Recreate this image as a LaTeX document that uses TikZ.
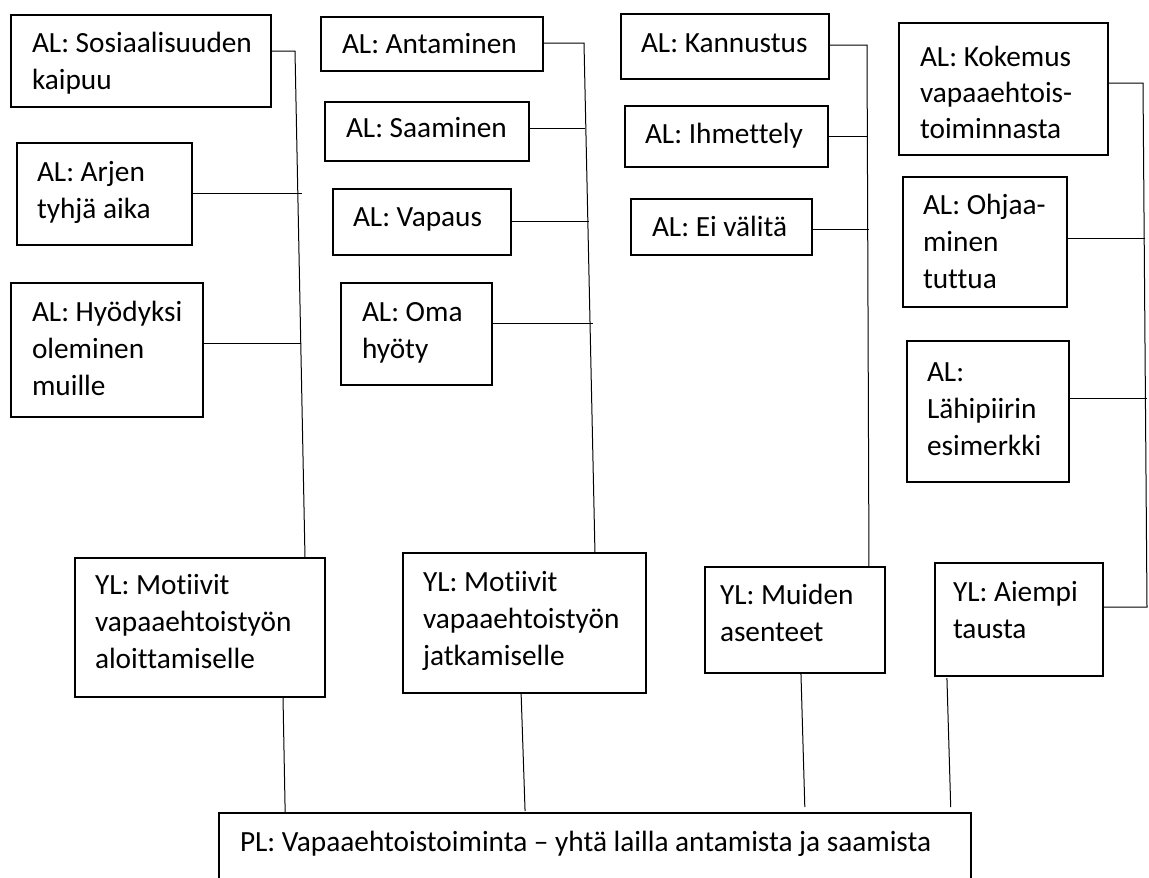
\documentclass[tikz,border=0pt]{standalone}
\usepackage{fontspec}
\setmainfont{Carlito}[Ligatures={NoCommon}]
\usetikzlibrary{calc}
\newcommand\boxfont{\fontsize{29.3}{37}\selectfont}
\begin{document}
\begin{tikzpicture}[x=1pt,y=-1pt,
  box/.style={draw, line width=1.3pt, inner sep=0pt, outer sep=0pt, anchor=north west},
  lbl/.style={anchor=north west, inner sep=0pt, outer sep=0pt, align=left, font=\boxfont},
  link/.style={line width=1pt}]
\clip (0,0) rectangle (1149,878);
\fill[white] (0,0) rectangle (1149,878);

% --- AL boxes, first column
\node[box, minimum width=260pt, minimum height=92pt]  (s1) at (11,15)  {};
\node[box, minimum width=175pt, minimum height=102pt] (s2) at (17,143) {};
\node[box, minimum width=192pt, minimum height=134pt] (s3) at (11,283) {};
\node[lbl] (s1t) at (32,53-26)  {\strut AL: Sosiaalisuuden\\kaipuu};
\node[lbl] (s2t) at (37,182-26) {\strut AL: Arjen\\tyhjä aika};
\node[lbl] (s3t) at (32,322-26) {\strut AL: Hyödyksi\\oleminen\\muille};

% --- AL boxes, second column
\node[box, minimum width=222pt, minimum height=54pt]  (g1) at (321,17)  {};
\node[box, minimum width=204pt, minimum height=59pt]  (g2) at (325,102) {};
\node[box, minimum width=178pt, minimum height=66pt]  (g3) at (333,189) {};
\node[box, minimum width=151pt, minimum height=102pt] (g4) at (341,283) {};
\node[lbl] (g1t) at (342,54-26)  {\strut AL: Antaminen};
\node[lbl] (g2t) at (346,138-26) {\strut AL: Saaminen};
\node[lbl] (g3t) at (353,227-26) {\strut AL: Vapaus};
\node[lbl] (g4t) at (362,322-26) {\strut AL: Oma\\hyöty};

% --- AL boxes, third column
\node[box, minimum width=208pt, minimum height=65pt] (m1) at (621,14)  {};
\node[box, minimum width=203pt, minimum height=61pt] (m2) at (625,106) {};
\node[box, minimum width=181pt, minimum height=56pt] (m3) at (631,199) {};
\node[lbl] (m1t) at (641,53-26)  {\strut AL: Kannustus};
\node[lbl] (m2t) at (645,144-26) {\strut AL: Ihmettely};
\node[lbl] (m3t) at (652,237-26) {\strut AL: Ei välitä};

% --- AL boxes, fourth column
\node[box, minimum width=209pt, minimum height=132pt] (b1) at (899,23)  {};
\node[box, minimum width=164pt, minimum height=130pt] (b2) at (903,177) {};
\node[box, minimum width=162pt, minimum height=141pt] (b3) at (907,341) {};
\node[lbl, font=\fontsize{29.3}{36}\selectfont] (b1t) at (920,67-26) {\strut AL: Kokemus\\vapaaehtois-\\toiminnasta};
\node[lbl] (b2t) at (923,215-26) {\strut AL: Ohjaa-\\minen\\tuttua};
\node[lbl] (b3t) at (927,382-26) {\strut AL:\\Lähipiirin\\esimerkki};

% --- YL boxes
\node[box, minimum width=250pt, minimum height=139pt] (y1) at (75,558)  {};
\node[box, minimum width=243pt, minimum height=140pt] (y2) at (403,553) {};
\node[box, minimum width=180pt, minimum height=106pt] (y3) at (705,567) {};
\node[box, minimum width=168pt, minimum height=113pt] (y4) at (935,563) {};
\node[lbl] (y1t) at (95,595-26)  {\strut YL: Motiivit\\vapaaehtoistyön\\aloittamiselle};
\node[lbl] (y2t) at (423,592-26) {\strut YL: Motiivit\\vapaaehtoistyön\\jatkamiselle};
\node[lbl] (y3t) at (720,605-26) {\strut YL: Muiden\\asenteet};
\node[lbl] (y4t) at (953,602-26) {\strut YL: Aiempi\\tausta};

% --- PL box (runs off the lower edge)
\node[box, minimum width=752pt, minimum height=100pt] (pl) at (219,813) {};
\node[lbl] (plt) at (240,852-26) {\strut PL: Vapaaehtoistoiminta – yhtä lailla antamista ja saamista};

% --- junction points on the trunks
\coordinate (c1a) at (295,51);
\coordinate (c1b) at (302,193);
\coordinate (c1c) at (301,343);
\coordinate (c2a) at (584,43);
\coordinate (c2b) at (585,128);
\coordinate (c2c) at (589,221);
\coordinate (c2d) at (593,323);
\coordinate (c3a) at (867,45);
\coordinate (c3b) at (867,136);
\coordinate (c3c) at (869,229);
\coordinate (c4a) at (1143,83);
\coordinate (c4b) at (1147,607);
\coordinate (c4c) at (1145,238);
\coordinate (c4d) at (1147,398);

% --- trunks from the first AL box down to each YL box
\draw[link] (s1.east |- c1a) -- (c1a) -- ($(y1.north west)!0.92!(y1.north east)$);
\draw[link] (g1.east |- c2a) -- (c2a) -- ($(y2.north west)!0.79!(y2.north east)$);
\draw[link] (m1.east |- c3a) -- (c3a) -- ($(y3.north west)!0.911!(y3.north east)$);
\draw[link] (b1.east |- c4a) -- (c4a) -- (c4b) -- (y4.east |- c4b);

% --- branches from the other AL boxes
\draw[link] (s2.east |- c1b) -- (c1b);
\draw[link] (s3.east |- c1c) -- (c1c);
\draw[link] (g2.east |- c2b) -- (c2b);
\draw[link] (g3.east |- c2c) -- (c2c);
\draw[link] (g4.east |- c2d) -- (c2d);
\draw[link] (m2.east |- c3b) -- (c3b);
\draw[link] (m3.east |- c3c) -- (c3c);
\draw[link] (b2.east |- c4c) -- (c4c);
\draw[link] (b3.east |- c4d) -- (c4d);

% --- YL boxes down to the PL box
\draw[link] ($(y1.south west)!0.832!(y1.south east)$) -- ($(pl.north west)!0.088!(pl.north east)$);
\draw[link] ($(y2.south west)!0.486!(y2.south east)$) -- ($(pl.north west)!0.407!(pl.north east)+(0,-2)$);
\draw[link] ($(y3.south west)!0.533!(y3.south east)$) -- ($(pl.north west)!0.779!(pl.north east)+(0,-6)$);
\draw[link] ($(y4.south west)!0.071!(y4.south east)+(0,2)$) -- ($(pl.north west)!0.973!(pl.north east)+(0,-6)$);
\end{tikzpicture}
\end{document}
